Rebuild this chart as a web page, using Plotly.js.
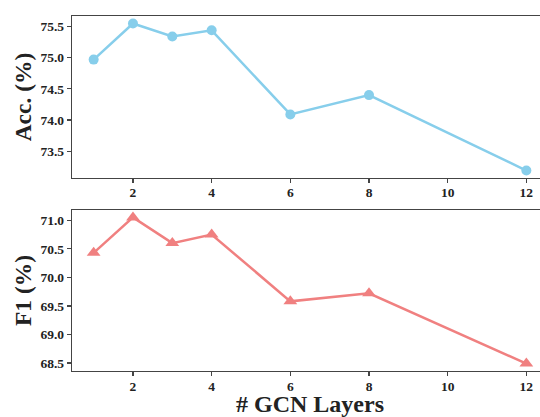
<!DOCTYPE html>
<html>
<head>
<meta charset="utf-8">
<script src="https://cdn.plot.ly/plotly-3.0.1.min.js"></script>
<style>html,body{margin:0;padding:0;overflow:hidden;background:#fff;width:540px;height:417px;}</style>
</head>
<body>
<div id="chart"></div>
<script>
const layers = [1, 2, 3, 4, 6, 8, 12];
const accValues = [74.97, 75.55, 75.34, 75.44, 74.09, 74.40, 73.19];
const f1Values = [70.43, 71.05, 70.60, 70.75, 69.58, 69.72, 68.49];
const xTicks = [2, 4, 6, 8, 10, 12];
const accTicks = [73.5, 74.0, 74.5, 75.0, 75.5];
const f1Ticks = [68.5, 69.0, 69.5, 70.0, 70.5, 71.0];

const serif = "Liberation Serif, Times New Roman, serif";
const tickFont = {family: serif, size: 13.5, color: '#222', weight: 'bold'};
const yTitleFont = {family: serif, size: 23.5, color: '#222', weight: 'bold'};
const xTitleFont = {family: serif, size: 24, color: '#222', weight: 'bold'};
const lineColor = '#444';

const traces = [
  {x: layers, y: accValues, type: 'scatter', mode: 'lines+markers', xaxis: 'x', yaxis: 'y',
   line: {color: '#87CEEB', width: 2.5}, marker: {color: '#87CEEB', size: 10, symbol: 'circle'}},
  {x: layers, y: f1Values, type: 'scatter', mode: 'lines+markers', xaxis: 'x2', yaxis: 'y2',
   line: {color: '#F08080', width: 2.5}, marker: {color: '#F08080', size: 12, symbol: 'triangle-up'}}
];

function xAxis(domainAnchor, withTitle) {
  const a = {
    anchor: domainAnchor, range: [0.45, 12.55], tickvals: xTicks, ticktext: xTicks.map(String),
    showgrid: false, zeroline: false, showline: true, linecolor: lineColor, linewidth: 1.3, mirror: true,
    ticks: 'outside', ticklen: 4, tickwidth: 1.2, tickcolor: lineColor, tickfont: tickFont,
    ticklabelstandoff: -2
  };
  if (withTitle) a.title = {text: '# GCN Layers', font: xTitleFont, standoff: 9};
  return a;
}
function yAxis(domain, anchor, ticks, range, title) {
  return {
    domain: domain, anchor: anchor, range: range, tickvals: ticks, ticktext: ticks.map(v => v.toFixed(1)),
    showgrid: false, zeroline: false, showline: true, linecolor: lineColor, linewidth: 1.3, mirror: true,
    ticks: 'outside', ticklen: 4, tickwidth: 1.2, tickcolor: lineColor, tickfont: tickFont,
    title: {text: title, font: yTitleFont, standoff: 2}
  };
}

const layout = {
  width: 548, height: 417,
  margin: {l: 72, r: 0, t: 16, b: 46},
  paper_bgcolor: '#fff', plot_bgcolor: '#fff',
  showlegend: false,
  xaxis: xAxis('y', false),
  yaxis: yAxis([0.5437, 1], 'x', accTicks, [73.07, 75.67], 'Acc. (%)'),
  xaxis2: xAxis('y2', true),
  yaxis2: yAxis([0, 0.4535], 'x2', f1Ticks, [68.36, 71.18], 'F1 (%)')
};

Plotly.newPlot('chart', traces, layout, {displayModeBar: false, staticPlot: true});
</script>
</body>
</html>
